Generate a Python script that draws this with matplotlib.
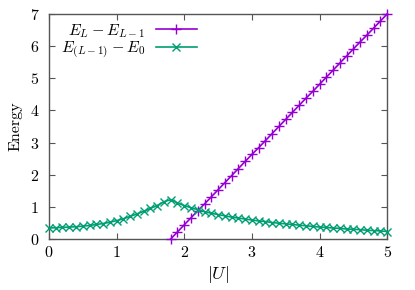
import matplotlib
matplotlib.use("Agg")
import matplotlib.pyplot as plt

plt.rcParams['font.family'] = 'serif'
plt.rcParams['font.serif'] = ['cmr10', 'DejaVu Serif']
plt.rcParams['mathtext.fontset'] = 'cm'
plt.rcParams['axes.formatter.use_mathtext'] = True

x_green = [0.0, 0.1, 0.2, 0.3, 0.4, 0.5, 0.6, 0.7, 0.8, 0.9,
           1.0, 1.1, 1.2, 1.3, 1.4, 1.5, 1.6, 1.7, 1.8, 1.9,
           2.0, 2.1, 2.2, 2.3, 2.4, 2.5, 2.6, 2.7, 2.8, 2.9,
           3.0, 3.1, 3.2, 3.3, 3.4, 3.5, 3.6, 3.7, 3.8, 3.9,
           4.0, 4.1, 4.2, 4.3, 4.4, 4.5, 4.6, 4.7, 4.8, 4.9, 5.0]
y_green = [0.34, 0.35, 0.36, 0.37, 0.38, 0.40, 0.42, 0.45, 0.48, 0.52,
           0.57, 0.63, 0.70, 0.78, 0.86, 0.95, 1.04, 1.16, 1.22, 1.12,
           1.04, 0.97, 0.91, 0.85, 0.80, 0.76, 0.72, 0.68, 0.65, 0.62,
           0.59, 0.56, 0.54, 0.51, 0.49, 0.47, 0.45, 0.43, 0.41, 0.39,
           0.37, 0.36, 0.34, 0.33, 0.31, 0.30, 0.29, 0.27, 0.26, 0.25, 0.23]

x_purple = [1.8, 1.9, 2.0, 2.1, 2.2, 2.3, 2.4, 2.5, 2.6, 2.7,
            2.8, 2.9, 3.0, 3.1, 3.2, 3.3, 3.4, 3.5, 3.6, 3.7,
            3.8, 3.9, 4.0, 4.1, 4.2, 4.3, 4.4, 4.5, 4.6, 4.7,
            4.8, 4.9, 5.0]
y_purple = [0.00, 0.22, 0.44, 0.66, 0.88, 1.09, 1.31, 1.53, 1.75, 1.97,
            2.19, 2.41, 2.63, 2.84, 3.06, 3.28, 3.50, 3.72, 3.94, 4.16,
            4.38, 4.59, 4.81, 5.03, 5.25, 5.47, 5.69, 5.91, 6.13, 6.34,
            6.56, 6.78, 7.00]

label_purple = r'$E_L - E_{L-1}$'
label_green = r'$E_{(L-1)} - E_0$'
xticks = [0, 1, 2, 3, 4, 5]
yticks = [0, 1, 2, 3, 4, 5, 6, 7]

fig = plt.figure(figsize=(4.15, 2.9), dpi=100)
ax = fig.add_axes([0.118, 0.176, 0.815, 0.776])

ax.plot(x_purple, y_purple, color='#9400d3', marker='+', markersize=6.5,
        markeredgewidth=1.0, linewidth=1.2, label=label_purple, clip_on=False, zorder=3)
ax.plot(x_green, y_green, color='#009e73', marker='x', markersize=5.5,
        markeredgewidth=1.0, linewidth=1.2, label=label_green, clip_on=False, zorder=3)

ax.set_xlim(0, 5)
ax.set_ylim(0, 7)
ax.set_xticks(xticks)
ax.set_yticks(yticks)
ax.tick_params(direction='in', top=True, right=True, length=4, width=0.8,
               color='#555555', labelsize=11.5)
ax.tick_params(axis='x', pad=4)
ax.tick_params(axis='y', pad=7)
for s in ax.spines.values():
    s.set_color('#555555')
    s.set_linewidth(1.0)

ax.set_xlabel(r'$|U|$', fontsize=13, labelpad=3)
ax.set_ylabel('Energy', fontsize=11.5, labelpad=5)

leg = ax.legend(loc='upper left', markerfirst=False, frameon=False, fontsize=11.5,
                handlelength=2.6, borderaxespad=0.1, labelspacing=0.0,
                bbox_to_anchor=(0.012, 1.0), handletextpad=0.65)

fig.savefig('out.png', dpi=100)
